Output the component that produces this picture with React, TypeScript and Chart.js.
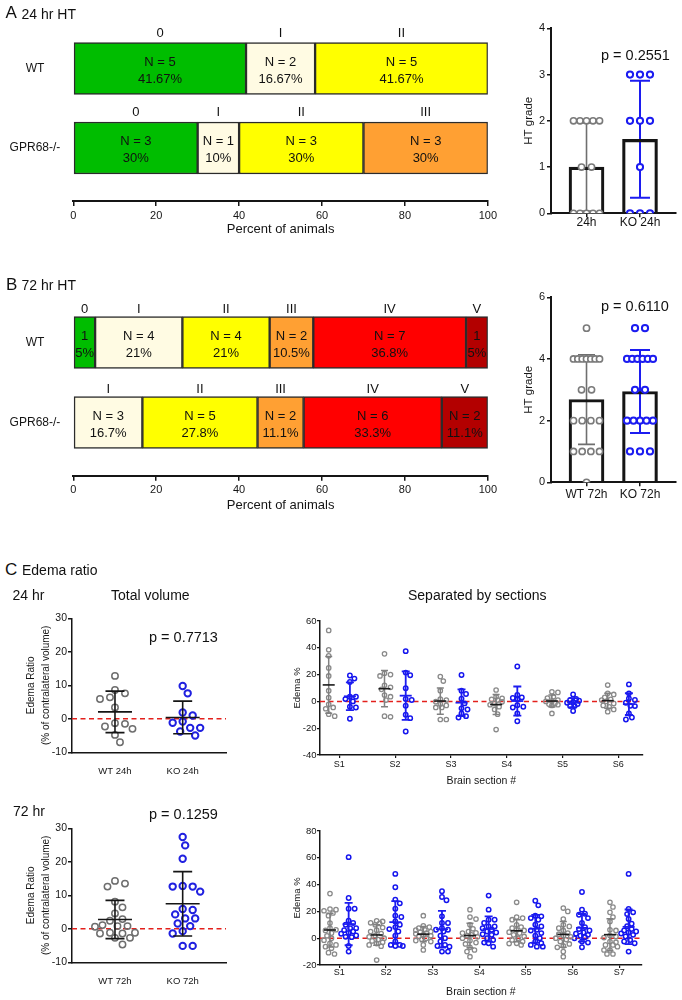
import React, { useEffect, useRef } from 'react';
import { Chart, registerables } from 'chart.js';

Chart.register(...registerables);

const FONT = "'Liberation Sans', Arial, Helvetica, sans-serif";
Chart.defaults.font.family = FONT;
Chart.defaults.color = '#111';

const INK = '#151515';
const GRAY_PT = '#7a7a7a';
const GRAY_ERR = '#6f6f6f';
const BLUE = '#1c1cf0';
const ZERO_RED = '#e3201c';

// ---------------- Data ----------------
const GRADE_NAMES = ['0', 'I', 'II', 'III', 'IV', 'V'];
const GRADE_COLORS = ['#00bd00', '#fffbe3', '#ffff00', '#ffa033', '#ff0000', '#b30000'];
const GROUP_ROWS = ['WT', 'GPR68-/-'];

// Panel A: 24 hr HT (animals per grade)
const A_WT_COUNTS = [5, 2, 5, 0, 0, 0];
const A_KO_COUNTS = [3, 1, 3, 3, 0, 0];
const A_WT_NTXT = ['N = 5', 'N = 2', 'N = 5', '', '', ''];
const A_WT_PCT = ['41.67%', '16.67%', '41.67%', '', '', ''];
const A_KO_NTXT = ['N = 3', 'N = 1', 'N = 3', 'N = 3', '', ''];
const A_KO_PCT = ['30%', '10%', '30%', '30%', '', ''];
const A_CATS = ['24h', 'KO 24h'];
const A_PVAL = 'p = 0.2551';

// Panel B: 72 hr HT
const B_WT_COUNTS = [1, 4, 4, 2, 7, 1];
const B_KO_COUNTS = [0, 3, 5, 2, 6, 2];
const B_WT_NTXT = ['1', 'N = 4', 'N = 4', 'N = 2', 'N = 7', '1'];
const B_WT_PCT = ['5%', '21%', '21%', '10.5%', '36.8%', '5%'];
const B_KO_NTXT = ['', 'N = 3', 'N = 5', 'N = 2', 'N = 6', 'N = 2'];
const B_KO_PCT = ['', '16.7%', '27.8%', '11.1%', '33.3%', '11.1%'];
const B_CATS = ['WT 72h', 'KO 72h'];
const B_PVAL = 'p = 0.6110';

// Panel C: edema ratio, total volume
const C24_CATS = ['WT 24h', 'KO 24h'];
const C24_WT = [12.8, 8.6, 7.6, 6.4, 5.9, 3.4, -1.3, -1.5, -2.3, -3.0, -4.8, -7.0];
const C24_KO = [9.8, 7.6, 1.9, 1.0, -0.8, -1.2, -2.7, -2.7, -3.8, -5.0];
const C24_PVAL = 'p = 0.7713';
const C72_CATS = ['WT 72h', 'KO 72h'];
const C72_WT = [14.3, 13.5, 12.6, 8.1, 6.4, 4.6, 2.9, 2.4, 0.8, 0.8, 1.1, 0.6, -1.2, -1.4, -1.4, -1.2, -2.7, -2.7, -4.7];
const C72_KO = [27.4, 24.9, 20.9, 12.6, 11.1, 12.6, 12.8, 5.6, 5.9, 4.3, 3.1, 3.1, 1.6, 0.8, -0.7, -1.4, -5.1, -5.1];
const C72_PVAL = 'p = 0.1259';

// Panel C: separated by sections
const SEC24_LABELS = ['S1', 'S2', 'S3', 'S4', 'S5', 'S6'];
const SEC24_WT = [
  [53, 38.5, 34, 25, 19, 8, 2.8, -2.2, -4.5, -5.5, -9.5, -11],
  [35.5, 21, 20, 19, 12, 10.5, 9, 4.7, 3.5, 1, -11.5, -11],
  [18.5, 15.2, 8, 1.8, 1, -0.2, -2, -3, -4.5, -4.5, -13.5, -13.5],
  [8.5, 3.5, 2.3, 1.5, 1, -0.3, -1.5, -2.5, -4, -6, -9.5, -21],
  [7.2, 6.7, 3.5, 2.5, 1, 0.5, 0, -1.5, -2, -2.5, -3, -9],
  [12.2, 6, 5.2, 3, 1.5, 1, 0, -1.5, -3, -4, -6, -7.7],
];
const SEC24_KO = [
  [19.3, 17, 14.5, 3.5, 3.5, 1.7, 0, -4, -4.5, -13],
  [37.5, 21.5, 19.5, 9.8, 1.8, 1, -3.3, -10, -12.5, -22.5],
  [19.7, 8, 5.5, 2, -1.5, -5.2, -6, -9, -11, -12],
  [26, 4.8, 3, 2.5, 1.5, -2.8, -4, -4.5, -9, -14.8],
  [5.2, 1.8, 1, 0.5, -0.5, -1, -2, -3.5, -3.5, -7.2],
  [12.7, 6, 2.2, 1, -1, -3.3, -3.5, -9, -12, -13.5],
];
const SEC72_LABELS = ['S1', 'S2', 'S3', 'S4', 'S5', 'S6', 'S7'];
const SEC72_WT = [
  [33.3, 21.8, 21.3, 20.5, 18.8, 16.8, 11.3, 7.5, 6.3, 5.8, 3.8, 1.8, 0, -1.5, -3.8, -5, -6.3, -7.5, -10.8, -11.8],
  [13, 12.5, 11.5, 11, 10, 8, 6, 5, 3.5, 2, 1, 0, -1, -2, -3, -4, -5, -6, -16.3],
  [16.8, 9.3, 8.3, 7.5, 6.3, 5, 3.8, 3.3, 1.8, 1.3, 0, -0.8, -1.8, -2.5, -5, -8.8, 2.5, 4.5, 6],
  [21.3, 15.8, 14.3, 10, 7, 5, 3.8, 1.8, 0, -1.8, -3.3, -4.3, -6.8, -8.8, -10, -13.8, 2.5, 1, 4],
  [26.8, 15.8, 15, 13.8, 10, 8.3, 6.3, 5.8, 3.8, 2.5, 1.3, 0, -1.3, -2.5, -3.8, -5, 4.5, 7.5, -4],
  [22.5, 20, 14.3, 10, 8.8, 7.5, 5.8, 3.8, 1.8, 0, -2.5, -4.3, -5.8, -6.8, -10, -13.8, 1, 3, -1],
  [26.8, 23.3, 19.3, 15.8, 12.5, 6.3, 5.8, 1.3, -2.5, -5, -6.3, -8.8, -8.8, -11.8, -11.8, -5, 0.5, -3, 2],
];
const SEC72_KO = [
  [60.5, 30, 22, 22, 13, 11.3, 10, 7.5, 7.5, 5, 3.3, 0.8, -5.8, -10, 1, 4, 6, 2],
  [48, 38, 28.8, 26, 22, 16.8, 15.8, 12.5, 10, 8.3, 6.8, 5, 1.8, -2.5, -5, -5.8, -5.8, -5],
  [35, 30.8, 28.3, 16.3, 11.3, 11.3, 7.5, 6.3, 6.3, 5, 1.8, 0, -5, -5.8, -6.3, -10, -10, -2.5],
  [31.8, 21.3, 13.8, 13.8, 11.3, 8.8, 8.8, 6.3, 5, 4.3, 2.5, 0, -1.3, -3.3, -3.8, -6.3, 7.5, 3],
  [28, 24.5, 16.8, 16.3, 15, 13.8, 10, 8.8, 6.3, 5.8, 3.8, 1.8, 0, -2.5, -3.8, -6.3, -6.3, -5],
  [34.5, 21.3, 18.3, 17.5, 15, 11.3, 8.3, 6.8, 5.8, 4.3, 3.3, 1.8, 0.8, 0, -2.5, -3.3, -6.8, 2.5],
  [48, 21.8, 19.3, 14.3, 10.8, 6.8, 5.8, 4.3, 2.5, 1.3, -1.3, -2.5, -3.8, -10, 3.5, 5, 18, 9],
];

// ---------------- helpers ----------------
const mean = (a: number[]) => a.reduce((s, v) => s + v, 0) / a.length;
const sdev = (a: number[]) => {
  const m = mean(a);
  return Math.sqrt(a.reduce((s, v) => s + (v - m) * (v - m), 0) / (a.length - 1));
};
const expand = (counts: number[]) => {
  const out: number[] = [];
  counts.forEach((n, g) => { for (let i = 0; i < n; i++) out.push(g); });
  return out;
};
const fixW = (w: number) => (s: any) => { s.width = w; };
const fixH = (h: number) => (s: any) => { s.height = h; };
const setTicks = (vals: number[]) => (s: any) => { s.ticks = vals.map((v) => ({ value: v })); };

// centred rows of identical values (grade charts)
function rowOffsets(values: number[], pxPerX: number): number[] {
  const counts: Record<string, number> = {};
  const seen: Record<string, number> = {};
  values.forEach((v) => { counts[v] = (counts[v] || 0) + 1; });
  return values.map((v) => {
    const n = counts[v];
    seen[v] = (seen[v] === undefined ? -1 : seen[v]) + 1;
    const sp = n > 1 ? Math.min(10, 26 / (n - 1)) : 0;
    return ((seen[v] - (n - 1) / 2) * sp) / pxPerX;
  });
}

// simple beeswarm, returns pixel offsets
function beeswarm(values: number[], pxPerY: number, diam: number, step: number, cap: number): number[] {
  const idx = values.map((_, i) => i).sort((a, b) => values[b] - values[a]);
  const placed: { x: number; y: number }[] = [];
  const out: number[] = new Array(values.length).fill(0);
  const maxK = Math.floor(cap / step);
  for (const i of idx) {
    const y = values[i] * pxPerY;
    let best = 0;
    let bestScore = -1;
    for (let k = 0; k <= 2 * maxK; k++) {
      const c = k === 0 ? 0 : (k % 2 === 1 ? 1 : -1) * Math.ceil(k / 2) * step;
      let dmin = Infinity;
      for (const p of placed) dmin = Math.min(dmin, Math.hypot(p.x - c, p.y - y));
      if (dmin >= diam) { best = c; break; }
      if (dmin > bestScore) { bestScore = dmin; best = c; }
    }
    placed.push({ x: best, y });
    out[i] = best;
  }
  return out;
}

type ErrItem = { x: number; vals: number[]; color: string; lw: number; cap: number; meanW: number; meanColor?: string; meanLw?: number };
function errPlugin(items: ErrItem[], hook: 'beforeDatasetsDraw' | 'afterDatasetsDraw') {
  return {
    id: 'errbars',
    [hook](chart: any) {
      const xs = chart.scales.x;
      const ys = chart.scales.y;
      const ctx = chart.ctx;
      ctx.save();
      items.forEach((it) => {
        const m = mean(it.vals);
        const s = sdev(it.vals);
        const px = xs.getPixelForValue(it.x);
        const top = ys.getPixelForValue(m + s);
        const bot = ys.getPixelForValue(m - s);
        const mid = ys.getPixelForValue(m);
        ctx.strokeStyle = it.color;
        ctx.lineWidth = it.lw;
        ctx.beginPath();
        ctx.moveTo(px, top); ctx.lineTo(px, bot);
        ctx.moveTo(px - it.cap / 2, top); ctx.lineTo(px + it.cap / 2, top);
        ctx.moveTo(px - it.cap / 2, bot); ctx.lineTo(px + it.cap / 2, bot);
        ctx.stroke();
        if (it.meanW) {
          ctx.strokeStyle = it.meanColor || it.color;
          ctx.lineWidth = it.meanLw || it.lw;
          ctx.beginPath();
          ctx.moveTo(px - it.meanW / 2, mid); ctx.lineTo(px + it.meanW / 2, mid);
          ctx.stroke();
        }
      });
      ctx.restore();
    },
  };
}

const zeroLine = {
  id: 'zeroLine',
  beforeDatasetsDraw(chart: any) {
    const { ctx, chartArea: a, scales } = chart;
    const py = scales.y.getPixelForValue(0);
    ctx.save();
    ctx.strokeStyle = ZERO_RED;
    ctx.lineWidth = 1.5;
    ctx.setLineDash([5, 3.5]);
    ctx.beginPath();
    ctx.moveTo(a.left, py);
    ctx.lineTo(a.right, py);
    ctx.stroke();
    ctx.restore();
  },
};

const noPlug = { legend: { display: false }, tooltip: { enabled: false } };

// ---------------- chart builders ----------------
function stackChart(o: { counts: number[][]; ntxt: string[][]; pct: string[][]; yMin: number; yMax: number; axisH: number; titlePadB: number; gradeOff: number }) {
  const segs: { ri: number; gi: number }[] = [];
  const datasets: any[] = [];
  o.counts.forEach((row, ri) => {
    const total = row.reduce((a, b) => a + b, 0);
    row.forEach((n, gi) => {
      if (!n) return;
      segs.push({ ri, gi });
      datasets.push({
        data: [{ x: (n / total) * 100, y: ri }],
        backgroundColor: GRADE_COLORS[gi],
        borderColor: '#2b2b2b',
        borderWidth: 1.5,
        borderSkipped: false,
        barThickness: 52,
      });
    });
  });
  const labels = {
    id: 'segLabels',
    afterDatasetsDraw(chart: any) {
      const ctx = chart.ctx;
      ctx.save();
      ctx.fillStyle = '#111';
      ctx.textAlign = 'center';
      ctx.textBaseline = 'middle';
      ctx.font = `13px ${FONT}`;
      segs.forEach((s, d) => {
        const el = chart.getDatasetMeta(d).data[0];
        const { x, base, y, height } = el.getProps(['x', 'base', 'y', 'height'], true);
        const cx = (x + base) / 2;
        ctx.fillText(GRADE_NAMES[s.gi], cx, y - height / 2 - o.gradeOff);
        ctx.fillText(o.ntxt[s.ri][s.gi], cx, y - 6.5);
        ctx.fillText(o.pct[s.ri][s.gi], cx, y + 10.5);
      });
      ctx.restore();
    },
  };
  return {
    type: 'bar',
    data: { datasets },
    options: {
      indexAxis: 'y',
      responsive: false,
      animation: false,
      layout: { padding: { left: 0, right: 11, top: 20, bottom: 0 } },
      plugins: noPlug,
      scales: {
        x: {
          type: 'linear', stacked: true, min: 0, max: 100, afterFit: fixH(o.axisH),
          ticks: { stepSize: 20, font: { size: 11 }, color: INK, padding: 3, maxRotation: 0 },
          grid: { display: true, drawOnChartArea: false, drawTicks: true, tickLength: 5, color: INK, lineWidth: 1.5, offset: false },
          border: { display: true, color: INK, width: 2 },
          title: { display: true, text: 'Percent of animals', font: { size: 13 }, color: INK, padding: { top: 0, bottom: o.titlePadB } },
        },
        y: {
          type: 'linear', stacked: true, reverse: true, min: o.yMin, max: o.yMax, offset: false,
          afterFit: fixW(73.3), afterBuildTicks: setTicks([0, 1]),
          ticks: { autoSkip: false, callback: (v: number) => GROUP_ROWS[Math.round(v)], crossAlign: 'center', padding: 5, font: { size: 12 }, color: INK },
          grid: { display: false, offset: false },
          border: { display: false },
        },
      },
    },
    plugins: [labels],
  };
}

function gradeChart(o: { cats: string[]; wt: number[]; ko: number[]; yMax: number; yStep: number; padTop: number; axisH: number; labelPad: number }) {
  const XMIN = -0.664, XMAX = 1.673;
  const pxu = 125 / (XMAX - XMIN);
  const pts = (vals: number[], cx: number) => {
    const off = rowOffsets(vals, pxu);
    return vals.map((v, i) => ({ x: cx + off[i], y: v }));
  };
  const errs: ErrItem[] = [
    { x: 0, vals: o.wt, color: GRAY_ERR, lw: 1.6, cap: 17, meanW: 0 },
    { x: 1, vals: o.ko, color: BLUE, lw: 2, cap: 20, meanW: 0 },
  ];
  return {
    type: 'bar',
    data: {
      datasets: [
        { type: 'scatter', data: pts(o.wt, 0), pointRadius: 3.1, pointBorderWidth: 1.6, pointBorderColor: GRAY_PT, pointBackgroundColor: '#fff', order: 1 },
        { type: 'scatter', data: pts(o.ko, 1), pointRadius: 3.1, pointBorderWidth: 2, pointBorderColor: BLUE, pointBackgroundColor: '#fff', order: 1 },
        { type: 'bar', data: [{ x: 0, y: mean(o.wt) }, { x: 1, y: mean(o.ko) }], backgroundColor: 'rgba(255,255,255,0)', borderColor: INK, borderWidth: 2.5, barThickness: 35, order: 2 },
      ],
    },
    options: {
      responsive: false,
      animation: false,
      layout: { padding: { left: 0, right: 6, top: o.padTop, bottom: 0 } },
      plugins: noPlug,
      scales: {
        x: {
          type: 'linear', min: XMIN, max: XMAX, offset: false, afterFit: fixH(o.axisH), afterBuildTicks: setTicks([0, 1]),
          ticks: { autoSkip: false, maxRotation: 0, minRotation: 0, callback: (v: number) => o.cats[Math.round(v)], font: { size: 12, lineHeight: 1 }, padding: o.labelPad, color: INK },
          grid: { display: true, offset: false, drawOnChartArea: false, tickLength: 4, color: INK, lineWidth: 1.5 },
          border: { display: true, color: INK, width: 2 },
        },
        y: {
          type: 'linear', min: 0, max: o.yMax, afterFit: fixW(51),
          ticks: { stepSize: o.yStep, font: { size: 11 }, padding: 2, color: INK },
          grid: { display: true, drawOnChartArea: false, tickLength: 4, color: INK, lineWidth: 1.5 },
          border: { display: true, color: INK, width: 2 },
          title: { display: true, text: 'HT grade', font: { size: 11.5 }, color: INK, padding: { top: 21.5, bottom: 0 } },
        },
      },
    },
    plugins: [errPlugin(errs, 'beforeDatasetsDraw')],
  };
}

function totalChart(o: { cats: string[]; wt: number[]; ko: number[] }) {
  const XMIN = -0.635, XMAX = 1.64, YMIN = -10, YMAX = 30;
  const pxx = 154 / (XMAX - XMIN);
  const pxy = 134 / (YMAX - YMIN);
  const sw = (vals: number[], cx: number) => {
    const off = beeswarm(vals, pxy, 8.6, 2.5, 22);
    return vals.map((v, i) => ({ x: cx + off[i] / pxx, y: v }));
  };
  const errs: ErrItem[] = [
    { x: 0, vals: o.wt, color: INK, lw: 1.6, cap: 19, meanW: 34 },
    { x: 1, vals: o.ko, color: INK, lw: 1.6, cap: 19, meanW: 34 },
  ];
  return {
    type: 'scatter',
    data: {
      datasets: [
        { data: sw(o.wt, 0), pointRadius: 3.2, pointBorderWidth: 1.5, pointBorderColor: '#6e6e6e', pointBackgroundColor: 'rgba(255,255,255,0)' },
        { data: sw(o.ko, 1), pointRadius: 3.2, pointBorderWidth: 2, pointBorderColor: '#2020e0', pointBackgroundColor: 'rgba(255,255,255,0)' },
      ],
    },
    options: {
      responsive: false,
      animation: false,
      layout: { padding: { left: 0, right: 14, top: 18.3, bottom: 0 } },
      plugins: noPlug,
      scales: {
        x: {
          type: 'linear', min: XMIN, max: XMAX, afterFit: fixH(27.7), afterBuildTicks: setTicks([0, 1]),
          ticks: { autoSkip: false, maxRotation: 0, callback: (v: number) => o.cats[Math.round(v)], font: { size: 9.5 }, padding: 5, color: INK },
          grid: { display: false },
          border: { display: true, color: INK, width: 1.5 },
        },
        y: {
          type: 'linear', min: YMIN, max: YMAX, afterFit: fixW(72),
          ticks: { stepSize: 10, font: { size: 10.5 }, padding: 1, color: INK },
          grid: { display: true, drawOnChartArea: false, tickLength: 4, color: INK, lineWidth: 1.5 },
          border: { display: true, color: INK, width: 1.5 },
          title: { display: true, text: ['Edema Ratio', '(% of contralateral volume)'], font: { size: 10, lineHeight: 1.5 }, color: INK, padding: { top: 23.5, bottom: 0 } },
        },
      },
    },
    plugins: [zeroLine, errPlugin(errs, 'afterDatasetsDraw')],
  };
}

function sectionChart(o: { labels: string[]; wt: number[][]; ko: number[][]; yMin: number; yMax: number; xMin: number; xMax: number; dx: number; padRight: number; axisH: number; labelPad: number; titlePadB: number; cap: number }) {
  const W = 432 - o.padRight - 70;
  const pxx = W / (o.xMax - o.xMin);
  const pxy = 134 / (o.yMax - o.yMin);
  const sw = (vals: number[], cx: number) => {
    const off = beeswarm(vals, pxy, 5, 1.5, o.cap);
    return vals.map((v, i) => ({ x: cx + off[i] / pxx, y: v }));
  };
  const wtPts: any[] = [];
  const koPts: any[] = [];
  const errs: ErrItem[] = [];
  o.labels.forEach((_, i) => {
    const c = i + 1;
    wtPts.push(...sw(o.wt[i], c - o.dx));
    koPts.push(...sw(o.ko[i], c + o.dx));
    errs.push({ x: c - o.dx, vals: o.wt[i], color: '#808080', lw: 1.5, cap: 7, meanW: 12, meanColor: '#1a1a1a', meanLw: 1.6 });
    errs.push({ x: c + o.dx, vals: o.ko[i], color: BLUE, lw: 1.8, cap: 8, meanW: 12 });
  });
  const ticks = o.labels.map((_, i) => i + 1);
  return {
    type: 'scatter',
    data: {
      datasets: [
        { data: wtPts, pointRadius: 2.2, pointBorderWidth: 1.3, pointBorderColor: '#8a8a8a', pointBackgroundColor: 'rgba(255,255,255,0)' },
        { data: koPts, pointRadius: 2.2, pointBorderWidth: 1.5, pointBorderColor: '#1515ee', pointBackgroundColor: 'rgba(255,255,255,0)' },
      ],
    },
    options: {
      responsive: false,
      animation: false,
      layout: { padding: { left: 0, right: o.padRight, top: 21, bottom: 0 } },
      plugins: noPlug,
      scales: {
        x: {
          type: 'linear', min: o.xMin, max: o.xMax, afterFit: fixH(o.axisH), afterBuildTicks: setTicks(ticks),
          ticks: { autoSkip: false, maxRotation: 0, callback: (v: number) => o.labels[Math.round(v) - 1], font: { size: 9 }, padding: o.labelPad, color: INK },
          grid: { display: true, drawOnChartArea: false, tickLength: 3, color: INK, lineWidth: 1.2 },
          border: { display: true, color: INK, width: 1.5 },
          title: { display: true, text: 'Brain section #', font: { size: 10.5 }, color: INK, padding: { top: 0, bottom: o.titlePadB } },
        },
        y: {
          type: 'linear', min: o.yMin, max: o.yMax, afterFit: fixW(70),
          ticks: { stepSize: 20, font: { size: 9.5 }, padding: 0.5, color: INK },
          grid: { display: true, drawOnChartArea: false, tickLength: 3, color: INK, lineWidth: 1.3 },
          border: { display: true, color: INK, width: 1.5 },
          title: { display: true, text: 'Edema %', font: { size: 9.5 }, color: INK, padding: { top: 41.3, bottom: 0 } },
        },
      },
    },
    plugins: [zeroLine, errPlugin(errs, 'afterDatasetsDraw')],
  };
}

// ---------------- components ----------------
function ChartBox({ x, y, w, h, make }: { x: number; y: number; w: number; h: number; make: () => any }) {
  const ref = useRef<HTMLCanvasElement>(null);
  useEffect(() => {
    const chart = new Chart(ref.current as HTMLCanvasElement, make());
    return () => chart.destroy();
  }, []);
  return (
    <div style={{ position: 'absolute', left: x, top: y, width: w, height: h }}>
      <canvas ref={ref} width={w} height={h} style={{ display: 'block', width: w, height: h }} />
    </div>
  );
}

function Txt({ x, base, size, text }: { x: number; base: number; size: number; text: string }) {
  return (
    <div
      style={{
        position: 'absolute', left: x, top: base - 0.8465 * size, fontSize: size, lineHeight: 1,
        fontFamily: FONT, whiteSpace: 'nowrap', color: '#111',
      }}
    >
      {text}
    </div>
  );
}

export default function App() {
  return (
    <div style={{ position: 'absolute', left: 0, top: 0, width: 682, height: 1000, background: '#fff', overflow: 'hidden' }}>
      <ChartBox x={0} y={0} w={500} h={245} make={() => stackChart({
        counts: [A_WT_COUNTS, A_KO_COUNTS], ntxt: [A_WT_NTXT, A_KO_NTXT], pct: [A_WT_PCT, A_KO_PCT],
        yMin: -0.61, yMax: 1.667, axisH: 44, titlePadB: 7.7, gradeOff: 9.5,
      })} />
      <ChartBox x={500} y={0} w={182} h={240} make={() => gradeChart({
        cats: A_CATS, wt: expand(A_WT_COUNTS), ko: expand(A_KO_COUNTS), yMax: 4, yStep: 1, padTop: 28.3, axisH: 26.7, labelPad: -1,
      })} />
      <ChartBox x={0} y={250} w={500} h={270} make={() => stackChart({
        counts: [B_WT_COUNTS, B_KO_COUNTS], ntxt: [B_WT_NTXT, B_KO_NTXT], pct: [B_WT_PCT, B_KO_PCT],
        yMin: -0.906, yMax: 1.665, axisH: 44.3, titlePadB: 7.2, gradeOff: 7,
      })} />
      <ChartBox x={500} y={250} w={182} h={265} make={() => gradeChart({
        cats: B_CATS, wt: expand(B_WT_COUNTS), ko: expand(B_KO_COUNTS), yMax: 6, yStep: 2, padTop: 47.3, axisH: 32.7, labelPad: 2,
      })} />
      <ChartBox x={0} y={600} w={240} h={180} make={() => totalChart({ cats: C24_CATS, wt: C24_WT, ko: C24_KO })} />
      <ChartBox x={250} y={600} w={432} h={195} make={() => sectionChart({
        labels: SEC24_LABELS, wt: SEC24_WT, ko: SEC24_KO, yMin: -40, yMax: 60, xMin: 0.654, xMax: 6.437, dx: 0.19,
        padRight: 39.3, axisH: 40, labelPad: 1, titlePadB: 8, cap: 7,
      })} />
      <ChartBox x={0} y={810} w={240} h={180} make={() => totalChart({ cats: C72_CATS, wt: C72_WT, ko: C72_KO })} />
      <ChartBox x={250} y={810} w={432} h={190} make={() => sectionChart({
        labels: SEC72_LABELS, wt: SEC72_WT, ko: SEC72_KO, yMin: -20, yMax: 80, xMin: 0.586, xMax: 7.48, dx: 0.2,
        padRight: 40.3, axisH: 35, labelPad: -1, titlePadB: 2, cap: 8,
      })} />

      <Txt x={5.5} base={18.5} size={17} text="A" />
      <Txt x={21.5} base={18.5} size={14} text="24 hr HT" />
      <Txt x={6} base={290} size={17} text="B" />
      <Txt x={21.5} base={290} size={14} text="72 hr HT" />
      <Txt x={5} base={575} size={17} text="C" />
      <Txt x={22} base={575} size={14} text="Edema ratio" />
      <Txt x={12.5} base={600} size={14} text="24 hr" />
      <Txt x={111} base={600} size={14} text="Total volume" />
      <Txt x={408} base={600} size={14} text="Separated by sections" />
      <Txt x={13} base={816} size={14} text="72 hr" />
      <Txt x={601} base={60} size={14.5} text={A_PVAL} />
      <Txt x={601} base={311.5} size={14.5} text={B_PVAL} />
      <Txt x={149} base={642.7} size={14.5} text={C24_PVAL} />
      <Txt x={149} base={819} size={14.5} text={C72_PVAL} />
    </div>
  );
}
